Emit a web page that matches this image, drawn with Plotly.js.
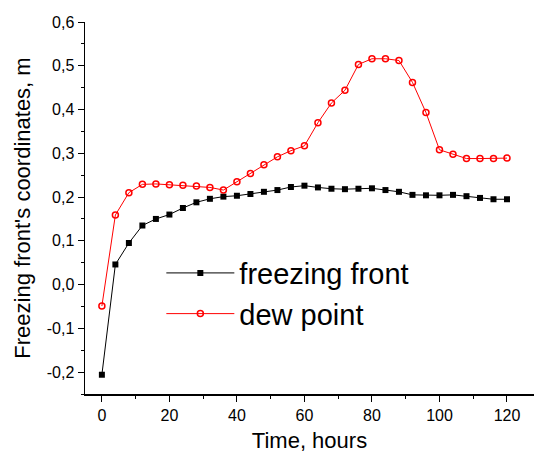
<!DOCTYPE html>
<html><head><meta charset="utf-8">
<script src="https://cdn.plot.ly/plotly-3.0.1.min.js"></script>
<style>html,body{margin:0;padding:0;background:#fff}#c{width:536px;height:457px}</style>
</head><body><div id="c"></div>
<script>
const hours = [0,4,8,12,16,20,24,28,32,36,40,44,48,52,56,60,64,68,72,76,80,84,88,92,96,100,104,108,112,116,120];
const freezingFront = [-0.206,0.046,0.095,0.135,0.150,0.160,0.175,0.188,0.196,0.201,0.203,0.207,0.212,0.216,0.223,0.226,0.222,0.219,0.218,0.219,0.220,0.216,0.212,0.205,0.204,0.204,0.205,0.202,0.198,0.195,0.195];
const dewPoint = [-0.049,0.159,0.210,0.229,0.230,0.228,0.227,0.225,0.222,0.216,0.235,0.254,0.274,0.292,0.306,0.317,0.370,0.415,0.444,0.503,0.516,0.516,0.512,0.462,0.393,0.308,0.298,0.288,0.288,0.288,0.289];
const yTickVals = [-0.2,-0.1,0,0.1,0.2,0.3,0.4,0.5,0.6];
const yTickText = ["-0,2","-0,1","0,0","0,1","0,2","0,3","0,4","0,5","0,6"];
const xTickVals = [0,20,40,60,80,100,120];

const font = "Arial, 'Liberation Sans', sans-serif";
const traces = [
  {x: hours, y: freezingFront, name: "freezing front", mode: "lines+markers",
   line: {color: "#000", width: 1}, marker: {symbol: "square", size: 6, color: "#000"}},
  {x: hours, y: dewPoint, name: "dew point", mode: "lines+markers",
   line: {color: "#ff0000", width: 1}, marker: {symbol: "circle-open", size: 6, color: "#ff0000", line: {width: 1.5, color: "#ff0000"}}}
];
const layout = {
  width: 536, height: 457,
  margin: {l: 85, r: 2, t: 22, b: 63},
  paper_bgcolor: "#fff", plot_bgcolor: "#fff",
  font: {family: font, color: "#000", size: 16},
  showlegend: true,
  legend: {x: 0.17, y: 0.27, xanchor: "left", yanchor: "middle", bgcolor: "rgba(0,0,0,0)",
           font: {family: font, size: 29, color: "#000"}, itemwidth: 68, tracegroupgap: 0},
  xaxis: {range: [-5, 128], showgrid: false, zeroline: false, showline: true, linecolor: "#000", linewidth: 1.5,
          ticks: "outside", ticklen: 6, tickwidth: 1, tickcolor: "#000", tickvals: xTickVals,
          minor: {dtick: 10, ticks: "outside", ticklen: 3, tickwidth: 1, tickcolor: "#000"},
          tickfont: {size: 16, family: font},
          title: {text: "Time, hours", font: {size: 22, family: font}, standoff: 10}},
  yaxis: {range: [-0.25, 0.6], showgrid: false, zeroline: false, showline: true, linecolor: "#000", linewidth: 1.5,
          ticks: "outside", ticklen: 6, tickwidth: 1, tickcolor: "#000", tickvals: yTickVals, ticktext: yTickText,
          minor: {dtick: 0.05, ticks: "outside", ticklen: 3, tickwidth: 1, tickcolor: "#000"},
          tickfont: {size: 16, family: font},
          title: {text: "Freezing front's coordinates, m", font: {size: 22, family: font}, standoff: 10}}
};
Plotly.newPlot("c", traces, layout, {displayModeBar: false, staticPlot: true});
</script></body></html>
